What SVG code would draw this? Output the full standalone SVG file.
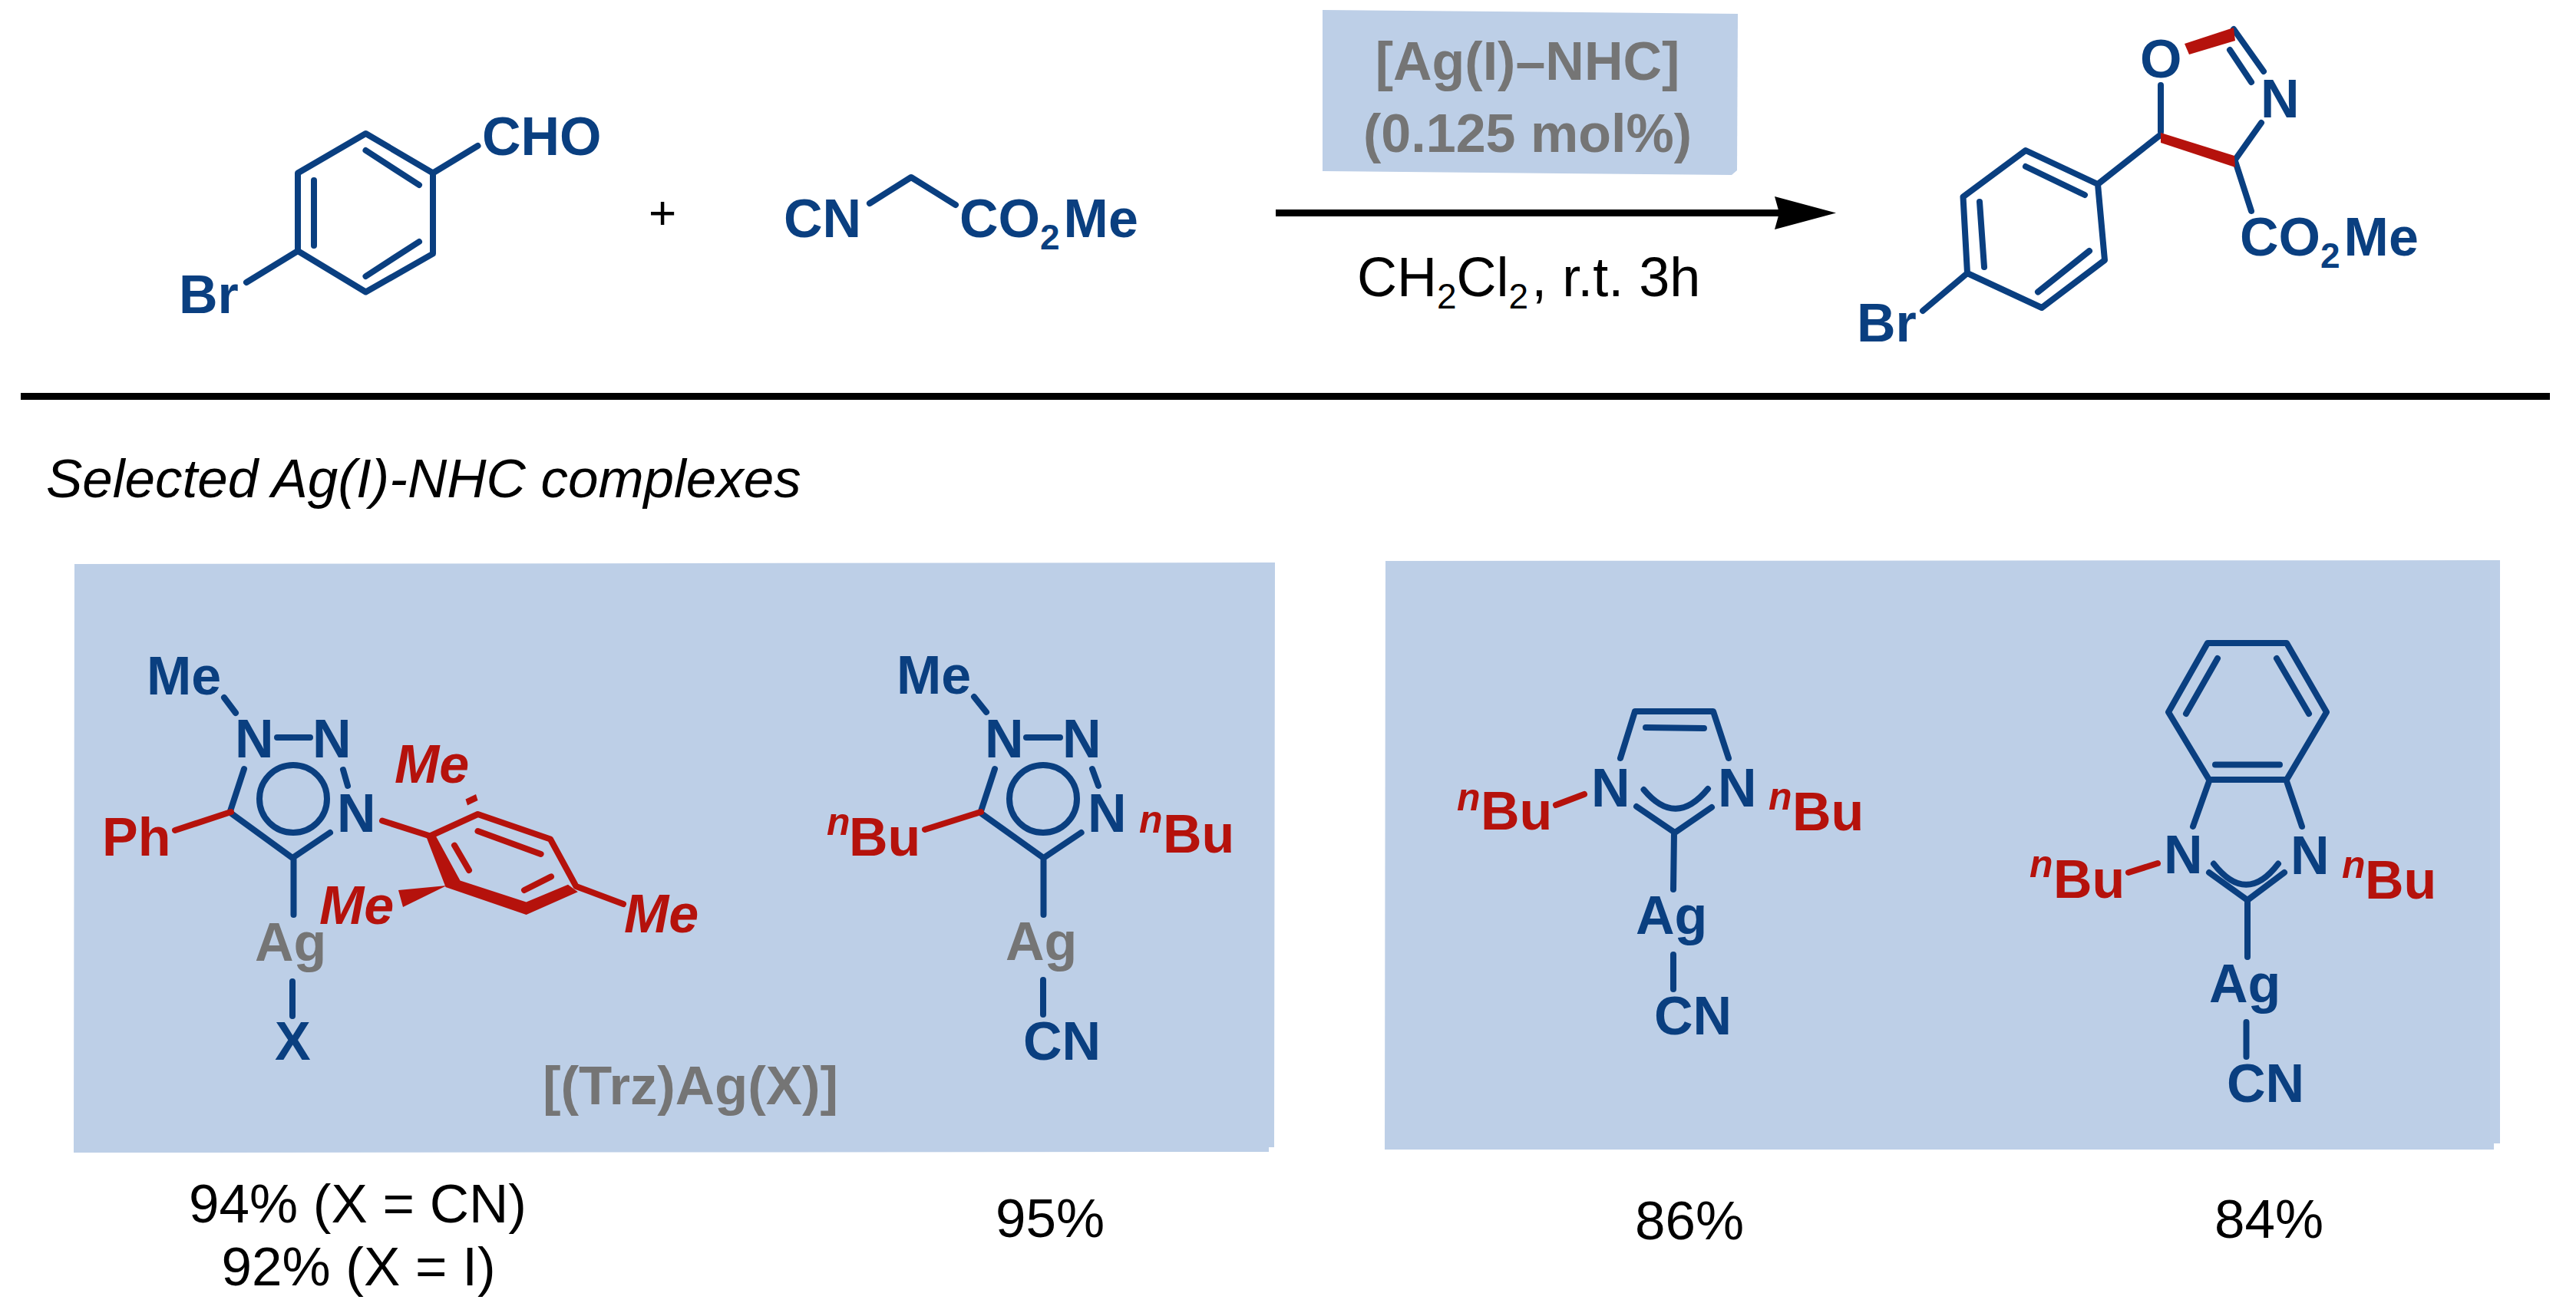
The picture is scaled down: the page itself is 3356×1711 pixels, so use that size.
<svg xmlns="http://www.w3.org/2000/svg" width="3356" height="1711" viewBox="0 0 3356 1711">
<style>
text{font-family:"Liberation Sans",Arial,sans-serif}
.b{font-weight:700;font-size:70px;fill:#0a3f80}
.r{font-weight:700;font-size:70px;fill:#b5120c}
.i{font-style:italic}
.n{font-weight:700;font-style:italic;font-size:50px;fill:#b5120c}
.g{font-weight:700;font-size:70px;fill:#757575}
.ag{font-weight:700;font-size:70px;fill:#757575}
.k{font-size:71px;fill:#000}
.s{font-size:46px}
.bl{fill:none;stroke:#0a3f80;stroke-width:8;stroke-linecap:round;stroke-linejoin:round}
.rl{fill:none;stroke:#b5120c;stroke-width:8;stroke-linecap:round;stroke-linejoin:round}
.rf{fill:#b5120c}
.p{fill:#bdcfe7}
</style>
<rect width="3356" height="1711" fill="#fff"/>

<g id="aldehyde">
<path class="bl" d="M476.5 174L564 225.5V330.6L476.5 380.5L388 327V225.5ZM564 225.5L622.5 190M388 327L321 368M476.5 196L546 241M409 235V320M546 315L476.5 360"/>
<text class="b" x="628" y="202">CHO</text>
<text class="b" x="233" y="408">Br</text>
</g>
<text id="plus" x="863" y="298" text-anchor="middle" font-size="62" fill="#000">+</text>
<g id="isocyanide">
<path class="bl" d="M1133 265L1187 231L1245 267"/>
<text class="b" x="1021" y="309">CN</text>
<text class="b" x="1250" y="309">CO<tspan class="s" dy="16">2</tspan><tspan dy="-16" dx="5">Me</tspan></text>
</g>

<g id="catalyst">
<polygon class="p" points="1723,13 2264,18 2263,222 2256,228 1723,223"/>
<text class="g" x="1990" y="104" text-anchor="middle">[Ag(I)–NHC]</text>
<text class="g" x="1990" y="198" text-anchor="middle">(0.125 mol%)</text>
</g>
<g id="connectors">
<rect x="1662" y="273" width="658" height="9" fill="#000"/>
<polygon points="2312,256 2392,277.5 2312,299 2318,277.5" fill="#000"/>
</g>
<text id="conditions" class="k" x="1768" y="386" style="font-size:72px">CH<tspan class="s" dy="16">2</tspan><tspan dy="-16">Cl</tspan><tspan class="s" dy="16">2</tspan><tspan dy="-16" dx="4">, r.t. 3h</tspan></text>

<g id="product">
<path class="bl" d="M2639 196L2733 240L2742 339L2660 401L2563 356L2557.5 256.5ZM2639 217L2716 254M2579 263L2585 348M2722 327L2655 380.5M2563 356L2505 405M2733 240L2813 177M2815 172V111M2910 38L2949 93M2905 65L2933 107M2946 160L2912 208M2912 210L2933 275"/>
<polygon class="rf" points="2846,57 2910,36 2912,53 2852,71"/>
<polygon class="rf" points="2815,173 2911,203 2912,218 2815,186"/>
<text class="b" x="2788" y="101">O</text>
<text class="b" x="2945" y="153">N</text>
<text class="b" x="2918" y="333">CO<tspan class="s" dy="16">2</tspan><tspan dy="-16" dx="5">Me</tspan></text>
<text class="b" x="2419" y="445">Br</text>
</g>

<rect id="rule" x="27" y="512" width="3295" height="9" fill="#000"/>
<text id="heading" class="k i" x="60" y="648">Selected Ag(I)-NHC complexes</text>

<polygon id="panel-left" class="p" points="97,735 1661,733 1660,1495 1653,1495 1653,1501 96,1502"/>
<polygon id="panel-right" class="p" points="1805,731 3257,730 3257,1490 3249,1490 3249,1498 1804,1498"/>

<g id="complex-trz-aryl">
<path class="bl" d="M292 909L307 929M361 961H404M447 1003L453 1024M318 1002L300 1057M300 1059L381 1118L430 1085M382.500 1118V1192M381 1279V1324"/>
<circle cx="382" cy="1041" r="44" class="bl"/>
<path class="rl" d="M228 1082L301 1058M498 1069.500L562 1090M559 1090L622.500 1061L717 1093.500L750.500 1155L812 1178M622.500 1083L704.600 1113M592 1101.600L611 1134M683 1160L718 1142.400"/>
<polygon class="rf" points="556.500,1093.500 567,1088 599.500,1147.500 685.600,1175.600 740,1152.700 752.800,1162.300 685.600,1192 580.600,1156"/>
<polygon class="rf" points="582,1154 519,1160 525,1182"/>
<polygon class="rf" points="606.500,1041.400 620,1035 622.500,1043 609,1049.600"/>
<text class="b" x="191" y="905">Me</text>
<text class="b" x="306" y="987">N</text>
<text class="b" x="407" y="987">N</text>
<text class="b" x="439" y="1084">N</text>
<text class="r" x="133" y="1115">Ph</text>
<text class="ag" x="332" y="1252">Ag</text>
<text class="b" x="358" y="1381">X</text>
<text class="r i" x="514" y="1020">Me</text>
<text class="r i" x="416" y="1204">Me</text>
<text class="r i" x="813" y="1215">Me</text>
<text class="g" x="707" y="1439" textLength="385" lengthAdjust="spacingAndGlyphs">[(Trz)Ag(X)]</text>
</g>

<g id="complex-trz-butyl">
<path class="bl" d="M1269 908L1285 928M1337 961H1381M1423 1002L1431 1024M1296 1002L1278 1057M1277 1059L1359.500 1118L1408.600 1085M1359.500 1118V1192M1359 1277V1322"/>
<circle cx="1359" cy="1041" r="44" class="bl"/>
<path class="rl" d="M1205 1081L1278 1058"/>
<text class="b" x="1168" y="904">Me</text>
<text class="b" x="1283" y="987">N</text>
<text class="b" x="1384" y="987">N</text>
<text class="b" x="1417" y="1084">N</text>
<text class="n" x="1077" y="1088">n</text>
<text class="r" x="1106" y="1115">Bu</text>
<text class="n" x="1484" y="1085">n</text>
<text class="r" x="1515" y="1111">Bu</text>
<text class="ag" x="1310" y="1251">Ag</text>
<text class="b" x="1333" y="1381">CN</text>
</g>

<g id="complex-imidazolylidene">
<path class="bl" d="M2111 988L2130 927H2232L2252 988M2144 948L2220 949M2141.500 1029Q2183 1079 2225 1028M2132 1051L2182 1085L2230 1052M2181 1085L2180 1159M2180 1244V1289"/>
<path class="rl" d="M2027 1049L2064 1035"/>
<text class="b" x="2073" y="1051">N</text>
<text class="b" x="2238" y="1051">N</text>
<text class="n" x="1898" y="1056">n</text>
<text class="r" x="1929" y="1081">Bu</text>
<text class="n" x="2304" y="1055">n</text>
<text class="r" x="2335" y="1082">Bu</text>
<text class="b" x="2131" y="1217">Ag</text>
<text class="b" x="2155" y="1348">CN</text>
</g>

<g id="complex-benzimidazolylidene">
<path class="bl" d="M2876 838H2979L3031 928L2979 1016H2878L2825 928ZM2889 858L2848 930M2966 858L3008 930M2886 996.500H2970M2878 1018L2857 1077M2979 1018L2999 1077M2884 1125.600Q2926.500 1180 2968 1125.600M2878 1137L2928 1173L2976 1137M2928 1173V1247M2926.500 1332V1377"/>
<path class="rl" d="M2773 1137L2811 1125"/>
<text class="b" x="2819" y="1138">N</text>
<text class="b" x="2984" y="1139">N</text>
<text class="n" x="2644" y="1143">n</text>
<text class="r" x="2675" y="1170">Bu</text>
<text class="n" x="3051" y="1144">n</text>
<text class="r" x="3081" y="1171">Bu</text>
<text class="b" x="2878" y="1306">Ag</text>
<text class="b" x="2901" y="1436">CN</text>
</g>

<g id="yields">
<text class="k" x="466" y="1593" text-anchor="middle">94% (X = CN)</text>
<text class="k" x="467" y="1675" text-anchor="middle">92% (X = I)</text>
<text class="k" x="1368" y="1612" text-anchor="middle">95%</text>
<text class="k" x="2201" y="1615" text-anchor="middle">86%</text>
<text class="k" x="2956" y="1613" text-anchor="middle">84%</text>
</g>
</svg>
